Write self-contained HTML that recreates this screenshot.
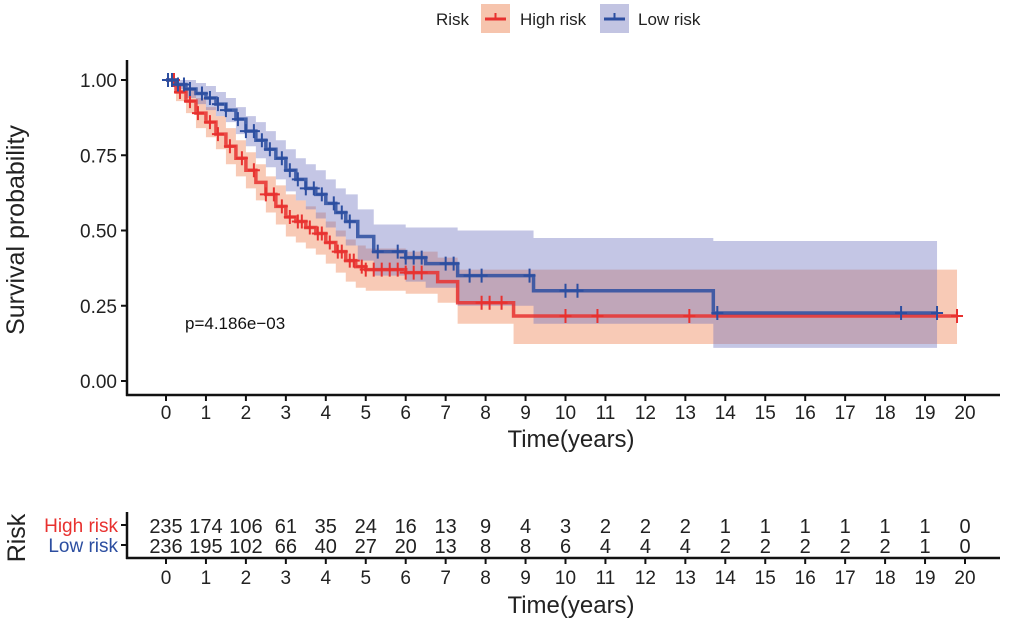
<!DOCTYPE html>
<html><head><meta charset="utf-8"><style>
html,body{margin:0;padding:0;background:#fff;}
svg{display:block;font-family:"Liberation Sans",Arial,sans-serif;}
</style></head><body>
<svg id="chart" width="1020" height="621" viewBox="0 0 1020 621" xmlns="http://www.w3.org/2000/svg">
<g id="legend">
  <text x="436" y="25" font-size="17" fill="#222">Risk</text>
  <rect x="481" y="4" width="29" height="29" fill="#f6c4ad"/>
  <line x1="485" y1="19" x2="506" y2="19" stroke="#e8312f" stroke-width="3"/>
  <line x1="495.5" y1="13" x2="495.5" y2="19" stroke="#e8312f" stroke-width="2"/>
  <text x="520" y="25" font-size="17" fill="#222">High risk</text>
  <rect x="600" y="4" width="29" height="29" fill="#c2c4e2"/>
  <line x1="604" y1="19" x2="625" y2="19" stroke="#2c4ea0" stroke-width="3"/>
  <line x1="614.5" y1="13" x2="614.5" y2="19" stroke="#2c4ea0" stroke-width="2"/>
  <text x="638" y="25" font-size="17" fill="#222">Low risk</text>
</g>
<g id="plot"></g>
<g id="axes"></g>
<text x="185" y="329" font-size="17" fill="#111">p=4.186e−03</text>
<text transform="translate(24,230) rotate(-90)" font-size="25" fill="#222" text-anchor="middle">Survival probability</text>
<text x="571" y="447" font-size="24" fill="#222" text-anchor="middle">Time(years)</text>
<g id="table"></g>
<text transform="translate(25,538) rotate(-90)" font-size="25" fill="#222" text-anchor="middle">Risk</text>
<text x="118" y="532" font-size="19" fill="#e8312f" text-anchor="end">High risk</text>
<text x="118" y="552" font-size="19" fill="#2c4ea0" text-anchor="end">Low risk</text>
<text x="571" y="613" font-size="24" fill="#222" text-anchor="middle">Time(years)</text>
</svg>
<script>
const highT = [0,0.25,0.5,0.75,1,1.25,1.5,1.75,2,2.25,2.5,2.75,3,3.25,3.5,3.75,4,4.25,4.5,4.75,5,6,6.8,7.3,8.7,19.8];
const highS = [1,0.96,0.93,0.89,0.86,0.82,0.78,0.74,0.70,0.66,0.62,0.58,0.545,0.53,0.51,0.49,0.46,0.43,0.40,0.38,0.37,0.36,0.33,0.26,0.216,0.216];
const highU = [1,0.99,0.97,0.94,0.91,0.88,0.84,0.80,0.76,0.72,0.68,0.65,0.62,0.60,0.58,0.56,0.53,0.50,0.47,0.45,0.44,0.43,0.41,0.37,0.37,0.37];
const highL = [1,0.93,0.89,0.84,0.81,0.77,0.72,0.68,0.64,0.60,0.56,0.52,0.48,0.46,0.44,0.42,0.39,0.36,0.33,0.31,0.30,0.29,0.26,0.19,0.123,0.123];
const lowT = [0,0.25,0.5,0.75,1,1.25,1.5,1.75,2,2.25,2.5,2.75,3,3.25,3.5,3.75,4,4.25,4.5,4.8,5.2,6,6.5,7.3,9.2,13.7,19.3];
const lowS = [1,0.985,0.97,0.955,0.94,0.92,0.90,0.87,0.83,0.80,0.77,0.74,0.70,0.67,0.64,0.62,0.59,0.56,0.53,0.48,0.43,0.41,0.39,0.35,0.30,0.226,0.226];
const lowU = [1,1,1,0.99,0.98,0.96,0.94,0.91,0.88,0.86,0.83,0.80,0.77,0.74,0.72,0.70,0.67,0.64,0.62,0.57,0.52,0.51,0.51,0.50,0.475,0.465,0.465];
const lowL = [1,0.97,0.94,0.92,0.90,0.88,0.86,0.82,0.78,0.74,0.71,0.67,0.63,0.60,0.57,0.54,0.51,0.48,0.45,0.40,0.35,0.33,0.31,0.25,0.19,0.11,0.11];
const highCens = [0.2,0.35,0.6,0.8,1.1,1.3,1.6,1.9,2.2,2.5,2.7,2.9,3.1,3.3,3.4,3.6,3.8,3.9,4.1,4.3,4.4,4.6,4.7,4.9,5.0,5.2,5.4,5.6,5.8,6.0,6.2,6.4,7.9,8.1,8.4,10.0,10.8,13.1,19.8];
const lowCens = [0.05,0.15,0.3,0.45,0.6,0.9,1.1,1.3,1.5,1.8,2.0,2.2,2.4,2.6,2.9,3.1,3.3,3.5,3.7,3.9,4.2,4.4,4.6,5.3,5.8,6.0,6.2,6.4,7.0,7.2,7.6,7.9,9.1,10.0,10.3,13.8,18.4,19.3];
const xTicks = [0,1,2,3,4,5,6,7,8,9,10,11,12,13,14,15,16,17,18,19,20];
const yTicks = [0,0.25,0.5,0.75,1];
const yTickLabels = ["0.00","0.25","0.50","0.75","1.00"];
const riskHigh = [235,174,106,61,35,24,16,13,9,4,3,2,2,2,1,1,1,1,1,1,0];
const riskLow = [236,195,102,66,40,27,20,13,8,8,6,4,4,4,2,2,2,2,2,1,0];

const NS='http://www.w3.org/2000/svg';
const X = t => 166 + t*39.95;
const Y = s => 381 - s*301;
function mk(tag, attrs, parent){const e=document.createElementNS(NS,tag);for(const k in attrs)e.setAttribute(k,attrs[k]);parent.appendChild(e);return e;}
const plot=document.getElementById('plot'), axes=document.getElementById('axes'), table=document.getElementById('table');
function stepPath(T,S){let d='M'+X(T[0])+','+Y(S[0]);for(let i=1;i<T.length;i++){d+='H'+X(T[i])+'V'+Y(S[i]);}return d;}
function bandPath(T,U,L){let d='M'+X(T[0])+','+Y(U[0]);for(let i=1;i<T.length;i++){d+='H'+X(T[i])+'V'+Y(U[i]);}
 const n=T.length-1;d+='V'+Y(L[n]);for(let i=n;i>0;i--){d+='V'+Y(L[i-1])+'H'+X(T[i-1]);}d+='Z';return d;}
function survAt(T,S,t){let s=S[0];for(let i=0;i<T.length;i++){if(T[i]<=t)s=S[i];}return s;}
const bh=mk('path',{d:bandPath(highT,highU,highL),fill:'#f08a5d','fill-opacity':0.45},plot);


const bl=mk('path',{d:bandPath(lowT,lowU,lowL),fill:'#6b70bd','fill-opacity':0.4},plot);


function series(T,S,C,col,name){
 const p=mk('path',{d:stepPath(T,S),fill:'none',stroke:col,'stroke-width':3.5,'stroke-opacity':0.85},plot);
 
 
 C.forEach(t=>{const s=survAt(T,S,t);
  const g=mk('path',{d:'M'+(X(t)-6)+','+Y(s)+'h12M'+X(t)+','+(Y(s)-7)+'v14',stroke:col,'stroke-width':2},plot);
  
  });
}
series(highT,highS,highCens,'#e8312f','high-risk');
series(lowT,lowS,lowCens,'#2c4ea0','low-risk');
mk('line',{x1:127,y1:60,x2:127,y2:396,stroke:'#111','stroke-width':2.5},axes);
mk('line',{x1:126,y1:395,x2:1000,y2:395,stroke:'#111','stroke-width':2.5},axes);
yTicks.forEach((v,i)=>{mk('line',{x1:121,y1:Y(v),x2:127,y2:Y(v),stroke:'#111','stroke-width':2},axes);
 const t=mk('text',{x:117,y:Y(v)+7,'font-size':19,'text-anchor':'end',fill:'#222'},axes);t.textContent=yTickLabels[i];
 
 });
xTicks.forEach(v=>{mk('line',{x1:X(v),y1:395,x2:X(v),y2:401,stroke:'#111','stroke-width':2},axes);
 const t=mk('text',{x:X(v),y:419,'font-size':19,'text-anchor':'middle',fill:'#222'},axes);t.textContent=v;
 
 });
mk('line',{x1:127,y1:512,x2:127,y2:559,stroke:'#111','stroke-width':2.5},table);
mk('line',{x1:126,y1:558,x2:1000,y2:558,stroke:'#111','stroke-width':2.5},table);
mk('line',{x1:121,y1:525,x2:127,y2:525,stroke:'#111','stroke-width':2},table);
mk('line',{x1:121,y1:545,x2:127,y2:545,stroke:'#111','stroke-width':2},table);
xTicks.forEach((v,i)=>{mk('line',{x1:X(v),y1:558,x2:X(v),y2:564,stroke:'#111','stroke-width':2},table);
 const t=mk('text',{x:X(v),y:584,'font-size':19,'text-anchor':'middle',fill:'#222'},table);t.textContent=v;
 
 
 const a=mk('text',{x:X(v),y:533,'font-size':20,'text-anchor':'middle',fill:'#222'},table);a.textContent=riskHigh[i];
 
 
 const b=mk('text',{x:X(v),y:553,'font-size':20,'text-anchor':'middle',fill:'#222'},table);b.textContent=riskLow[i];
 
 });
</script>
</body></html>
